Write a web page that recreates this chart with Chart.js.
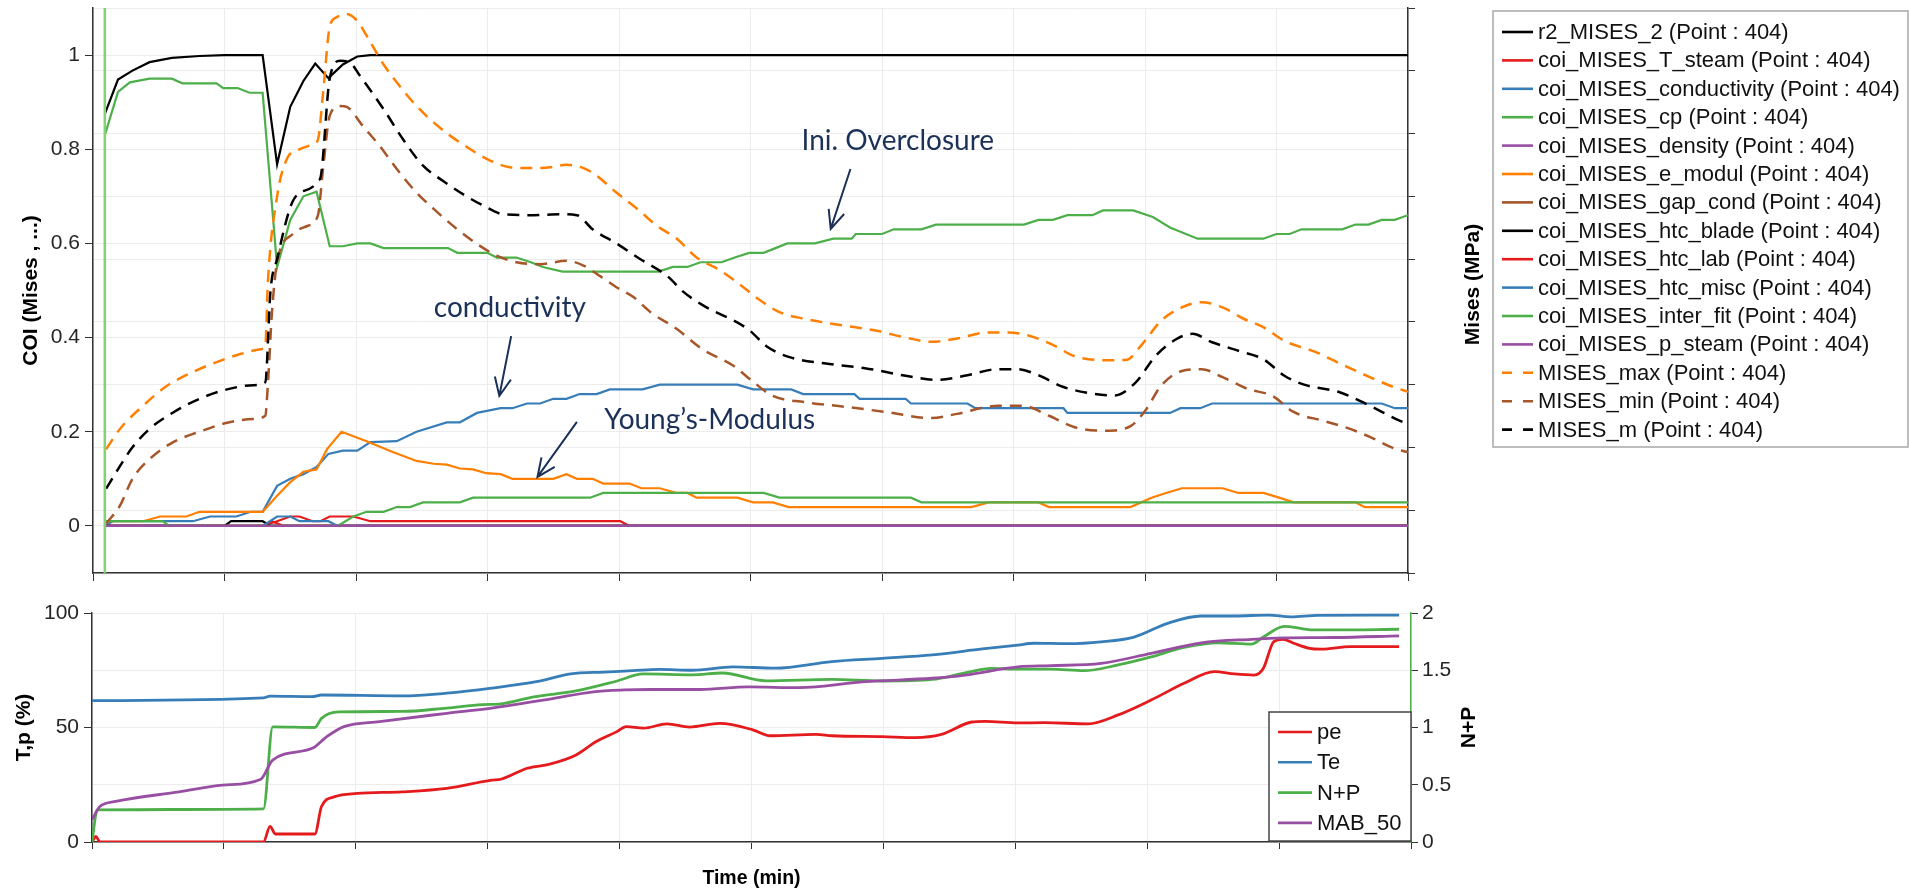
<!DOCTYPE html>
<html>
<head>
<meta charset="utf-8">
<title>COI / Mises over time</title>
<script src="https://cdn.jsdelivr.net/npm/chart.js@4.4.1/dist/chart.umd.min.js"></script>
<style>
  html, body { margin: 0; padding: 0; background: #ffffff; }
  #page { position: relative; width: 1909px; height: 894px; overflow: hidden; background: #ffffff; }
  #coiCanvas { position: absolute; left: 0; top: -20px; }
  #procCanvas { position: absolute; left: 0; top: 590px; }
</style>
</head>
<body>
<div id="page">
  <canvas id="coiCanvas" width="1909" height="620"></canvas>
  <canvas id="procCanvas" width="1909" height="304"></canvas>
</div>
<script>
// ---------------------------------------------------------------
// Axis ticks (time axis spans 0..100 over the run, no numbers shown)
// ---------------------------------------------------------------
const timeTicks    = [0, 10, 20, 30, 40, 50, 60, 70, 80, 90, 100];
const coiTicks     = [0, 0.2, 0.4, 0.6, 0.8, 1];
const misesTicks   = [0, 1, 2, 3, 4, 5, 6, 7, 8, 9];
const percentTicks = [0, 50, 100];
const npTicks      = [0, 0.5, 1, 1.5, 2];
const timeMarker   = 0.9;

// ---------------------------------------------------------------
// Upper plot: [time, value] samples per series
// ---------------------------------------------------------------
const r2Mises2 = [[0.9,0.875],[1.9,0.948],[3.0,0.967],[4.3,0.985],[6.0,0.994],[8.1,0.998],[10.0,1.0],[12.9,1.0],[14.0,0.768],[15.0,0.89],[16.0,0.945],[16.9,0.982],[17.9,0.951],[19.0,0.98],[20.1,0.997],[21.1,1.0],[100,1.0]];
const coiTSteam = [[0.9,0],[12.9,0],[14.0,0.01],[15.0,0.02],[15.7,0.02],[16.7,0.01],[17.3,0.01],[18.0,0.02],[19.8,0.02],[21.1,0.01],[40.1,0.01],[40.8,0],[100,0]];
const coiConductivity = [[0.9,0],[1.5,0.01],[7.6,0.01],[8.9,0.02],[10.9,0.02],[12.0,0.03],[12.9,0.03],[14.0,0.085],[15.0,0.1],[16.0,0.11],[17.0,0.125],[17.9,0.153],[19.0,0.16],[20.1,0.16],[21.1,0.178],[23.1,0.18],[24.6,0.2],[26.9,0.22],[27.9,0.22],[29.2,0.24],[31.0,0.25],[31.9,0.25],[33.0,0.26],[34.0,0.26],[35.0,0.27],[36.0,0.27],[37.0,0.28],[38.3,0.28],[39.3,0.29],[41.8,0.29],[43.1,0.3],[49.0,0.3],[50.2,0.29],[53.1,0.29],[54.0,0.28],[57.9,0.28],[58.3,0.27],[61.8,0.27],[62.2,0.26],[66.5,0.26],[67.1,0.25],[73.8,0.25],[74.1,0.24],[81.9,0.24],[82.7,0.25],[84.2,0.25],[85.1,0.26],[98.0,0.26],[99.0,0.25],[100,0.25]];
const coiCp = [[0.9,0.83],[1.9,0.922],[2.8,0.942],[4.3,0.95],[6.0,0.95],[6.8,0.94],[9.4,0.94],[9.9,0.93],[11.0,0.93],[11.9,0.92],[12.9,0.92],[14.0,0.55],[15.0,0.65],[16.0,0.70],[17.0,0.71],[18.0,0.594],[19.0,0.594],[20.1,0.60],[21.1,0.60],[22.1,0.59],[27.0,0.59],[27.7,0.58],[30.0,0.58],[30.7,0.57],[32.2,0.57],[33.3,0.56],[34.2,0.55],[35.7,0.54],[43.0,0.54],[44.1,0.55],[45.2,0.55],[46.2,0.56],[47.8,0.56],[48.8,0.57],[49.9,0.58],[51.0,0.58],[51.9,0.59],[52.8,0.60],[54.9,0.60],[56.3,0.61],[57.7,0.61],[58.0,0.62],[60.0,0.62],[60.9,0.63],[63.0,0.63],[64.1,0.64],[70.8,0.64],[71.9,0.65],[73.0,0.65],[74.1,0.66],[76.0,0.66],[76.8,0.67],[79.1,0.67],[80.6,0.656],[81.9,0.634],[84.0,0.61],[89.0,0.61],[90.0,0.62],[91.0,0.62],[91.9,0.63],[95.0,0.63],[96.0,0.64],[97.0,0.64],[98.0,0.65],[99.0,0.65],[100,0.66]];
const coiDensity = [[0.9,0],[100,0]];
const coiEModul = [[0.9,0],[1.0,0.01],[3.8,0.01],[5.1,0.02],[7.1,0.02],[8.1,0.03],[12.9,0.03],[14.0,0.064],[15.0,0.093],[16.0,0.115],[17.0,0.12],[17.8,0.163],[18.9,0.2],[20.8,0.18],[22.8,0.157],[24.6,0.138],[25.9,0.132],[26.9,0.13],[27.9,0.122],[28.9,0.12],[29.9,0.112],[31.0,0.11],[31.9,0.1],[35.0,0.1],[36.0,0.11],[36.8,0.1],[38.0,0.1],[38.8,0.09],[40.8,0.09],[41.7,0.08],[43.1,0.08],[44.4,0.07],[45.2,0.07],[45.9,0.06],[49.0,0.06],[50.2,0.05],[51.7,0.05],[52.9,0.04],[66.8,0.04],[68.1,0.05],[71.9,0.05],[72.7,0.04],[78.9,0.04],[80.5,0.06],[81.6,0.07],[82.8,0.08],[85.9,0.08],[87.1,0.07],[89.0,0.07],[90.2,0.06],[91.3,0.05],[96.0,0.05],[96.7,0.04],[100,0.04]];
const coiGapCond = [[0.9,0],[100,0]];
const coiHtcBlade = [[0.9,0],[10.0,0],[10.5,0.01],[12.9,0.01],[13.5,0],[100,0]];
const coiHtcLab = [[0.9,0],[12.9,0],[13.6,0.01],[14.5,0],[100,0]];
const coiHtcMisc = [[0.9,0],[12.9,0],[14.0,0.02],[15.0,0.02],[15.7,0.01],[17.9,0.01],[18.6,0],[100,0]];
const coiInterFit = [[0.9,0.01],[5.3,0.01],[5.8,0],[18.6,0],[19.8,0.02],[20.8,0.03],[22.1,0.03],[23.1,0.04],[24.1,0.04],[25.1,0.05],[27.9,0.05],[28.9,0.06],[37.8,0.06],[38.8,0.07],[51.0,0.07],[52.2,0.06],[62.2,0.06],[63.0,0.05],[100,0.05]];
const coiPSteam = [[0.9,0],[100,0]];
const misesMax = [[1.0,0.163],[2.05,0.206],[3.8,0.255],[5.6,0.297],[7.6,0.327],[9.4,0.348],[11.2,0.365],[12.9,0.376],[13.1,0.38],[13.3,0.518],[14.0,0.70],[14.75,0.78],[15.5,0.797],[16.7,0.81],[17.1,0.82],[17.5,0.92],[18.0,1.06],[18.5,1.08],[19.3,1.087],[20.1,1.072],[21.1,1.027],[22.1,0.98],[23.3,0.935],[24.6,0.892],[25.9,0.857],[27.1,0.83],[28.7,0.80],[30.2,0.776],[31.7,0.762],[33.5,0.76],[34.8,0.762],[36.0,0.767],[37.3,0.76],[38.3,0.744],[39.8,0.708],[41.4,0.673],[42.9,0.637],[44.4,0.61],[45.9,0.57],[47.5,0.546],[49.0,0.517],[50.6,0.482],[52.2,0.454],[54.1,0.44],[57.2,0.425],[59.5,0.415],[61.8,0.40],[63.8,0.391],[65.7,0.398],[68.1,0.411],[69.6,0.411],[71.2,0.404],[73.1,0.383],[74.6,0.361],[77.0,0.352],[78.6,0.353],[79.7,0.383],[81.2,0.435],[82.8,0.464],[84.3,0.475],[85.9,0.464],[87.5,0.44],[89.0,0.422],[90.6,0.393],[92.9,0.37],[95.2,0.34],[97.1,0.316],[98.9,0.295],[100,0.285]];
const misesMin = [[1.0,0.005],[2.05,0.043],[3.0,0.10],[4.3,0.142],[6.1,0.178],[8.1,0.20],[10.2,0.219],[12.2,0.227],[13.1,0.234],[13.3,0.30],[13.6,0.45],[14.0,0.56],[15.2,0.62],[16.3,0.637],[17.1,0.659],[17.5,0.76],[18.0,0.871],[18.8,0.892],[19.3,0.89],[20.5,0.85],[21.8,0.807],[23.3,0.751],[24.6,0.708],[26.2,0.666],[27.7,0.63],[29.2,0.599],[30.7,0.574],[32.2,0.56],[34.0,0.556],[36.0,0.563],[37.3,0.553],[38.6,0.53],[39.8,0.507],[41.1,0.486],[42.4,0.454],[44.4,0.418],[46.3,0.376],[48.7,0.34],[50.2,0.306],[51.7,0.276],[54.1,0.263],[57.2,0.253],[60.3,0.242],[63.8,0.229],[65.7,0.238],[68.8,0.255],[70.7,0.255],[72.7,0.234],[74.6,0.21],[77.0,0.202],[78.9,0.212],[80.1,0.248],[81.2,0.297],[82.8,0.329],[84.3,0.333],[85.9,0.316],[87.8,0.291],[89.7,0.276],[91.3,0.242],[93.6,0.223],[95.6,0.206],[97.1,0.189],[99.1,0.163],[100,0.157]];
const misesM = [[1.0,0.079],[2.05,0.127],[3.0,0.167],[4.3,0.206],[6.1,0.241],[8.1,0.27],[10.2,0.29],[12.2,0.299],[13.1,0.305],[13.5,0.50],[14.0,0.567],[15.2,0.69],[16.7,0.72],[17.1,0.733],[17.3,0.74],[18.0,0.95],[18.8,0.988],[19.5,0.985],[20.3,0.956],[22.1,0.885],[23.6,0.82],[25.1,0.765],[26.6,0.733],[28.4,0.70],[29.7,0.68],[31.2,0.662],[33.5,0.66],[35.5,0.662],[36.8,0.66],[38.0,0.63],[39.8,0.60],[41.6,0.567],[43.7,0.53],[44.9,0.497],[46.3,0.47],[49.8,0.418],[51.3,0.38],[52.9,0.359],[56.0,0.344],[58.7,0.335],[61.8,0.319],[64.2,0.31],[66.5,0.32],[68.8,0.333],[70.3,0.333],[71.9,0.32],[73.8,0.295],[75.8,0.282],[77.7,0.277],[79.3,0.305],[80.8,0.361],[82.4,0.397],[83.6,0.408],[85.1,0.39],[87.1,0.372],[89.0,0.354],[90.6,0.319],[92.1,0.30],[94.8,0.284],[96.3,0.266],[97.9,0.244],[99.4,0.223],[100,0.218]];

// ---------------------------------------------------------------
// Lower plot: process quantities (pe, Te, MAB_50 in %, N+P on its own axis)
// ---------------------------------------------------------------
const processPe = [[0,0],[0.3,2.4],[0.6,0],[13.0,0],[13.5,6.8],[13.9,3.5],[16.9,3.5],[17.4,15.5],[18.4,19.8],[20.1,21.2],[23.5,21.9],[26.9,23.4],[30.3,27.0],[31.0,27.4],[33.0,32.2],[34.7,34.0],[36.7,38.0],[38.2,43.8],[39.8,48.2],[40.5,50.4],[41.8,49.7],[43.6,51.6],[45.3,50.2],[47.6,51.8],[50.1,49.0],[51.4,46.4],[54.9,47.0],[56.1,46.4],[59.9,46.0],[62.4,45.6],[64.4,47.0],[66.7,52.4],[67.7,52.7],[70.2,52.0],[72.2,52.1],[75.5,51.6],[77.8,55.5],[80.3,62.0],[82.8,69.3],[85.1,74.4],[86.6,73.4],[88.1,72.9],[88.8,75.8],[89.6,87.5],[90.3,88.5],[91.1,86.8],[92.2,84.7],[93.2,84.2],[95.4,85.3],[99.1,85.3]];
const processTe = [[0,61.7],[13.0,62.9],[13.5,63.7],[16.7,63.5],[17.4,64.2],[23.5,63.8],[26.9,65.0],[30.3,67.2],[33.7,70.0],[36.3,73.4],[38.8,74.2],[41.0,74.8],[43.0,75.4],[45.5,75.0],[48.6,76.5],[51.8,75.9],[56.1,78.8],[59.9,80.2],[63.7,81.7],[67.5,84.3],[70.2,86.0],[71.4,86.8],[74.0,86.6],[76.5,87.4],[79.0,89.5],[81.6,95.6],[84.1,98.7],[86.6,98.7],[89.2,99.1],[90.9,98.3],[92.9,99.0],[99.1,99.1]];
const processNP = [[0,0],[0.4,0.28],[13.0,0.29],[13.7,1.006],[16.9,1.0],[17.4,1.08],[18.7,1.136],[23.5,1.14],[26.9,1.17],[29.6,1.2],[31.0,1.206],[33.5,1.268],[36.7,1.32],[39.8,1.406],[41.8,1.468],[45.5,1.46],[47.8,1.476],[51.1,1.408],[56.1,1.42],[59.9,1.406],[63.7,1.42],[66.2,1.476],[68.2,1.516],[70.2,1.51],[72.7,1.51],[75.2,1.496],[77.8,1.546],[80.3,1.616],[82.8,1.70],[85.4,1.74],[87.9,1.728],[88.8,1.79],[90.4,1.884],[91.7,1.864],[92.4,1.852],[94.2,1.852],[99.1,1.858]];
const processMab50 = [[0,9.7],[0.6,15.5],[1.8,17.7],[6.6,21.9],[9.9,24.8],[12.8,27.4],[13.7,35.8],[16.7,40.9],[17.8,46.0],[19.1,50.4],[21.8,52.6],[26.9,56.2],[30.3,58.5],[34.7,62.4],[38.0,65.6],[40.4,66.4],[42.3,66.6],[46.1,66.6],[49.8,67.7],[53.6,67.4],[58.6,70.0],[63.7,71.5],[66.2,72.9],[70.2,76.5],[72.7,77.0],[76.5,78.0],[80.3,82.4],[84.1,87.0],[87.9,88.5],[90.4,89.1],[94.2,89.3],[99.1,90.0]];

// Text callouts on the upper plot, anchored in data units
const callouts = [
  { text: 'Ini. Overclosure', at: [61.2, 0.818], from: [57.6, 0.758], to: [56.1, 0.631] },
  { text: 'conductivity',     at: [31.7, 0.462], from: [31.8, 0.403], to: [30.9, 0.276] },
  { text: 'Young\u2019s-Modulus', at: [46.9, 0.226], from: [36.8, 0.221], to: [33.8, 0.104] }
];

// ---------------------------------------------------------------
// Styling
// ---------------------------------------------------------------
const palette = {
  black: '#000000', red: '#e41a1c', blue: '#377eb8', green: '#4daf4a',
  purple: '#984ea3', orange: '#ff7f00', brown: '#a65628'
};
const UI_FONT = '"Liberation Sans", Arial, sans-serif';
const NOTE_FONT = 'Lato, "Open Sans", sans-serif';
const GRID = '#ececec';
const AXIS = '#333333';

Chart.defaults.font.family = UI_FONT;
Chart.defaults.animation = false;

const toXY = pts => pts.map(([x, y]) => ({ x, y }));
const fmt = v => String(Math.round(v * 10) / 10);
const fixTicks = list => scale => { scale.ticks = list.map(value => ({ value })); };

const coiSeries = [
  ['r2_MISES_2',             r2Mises2,        'black',  false],
  ['coi_MISES_T_steam',      coiTSteam,       'red',    false],
  ['coi_MISES_conductivity', coiConductivity, 'blue',   false],
  ['coi_MISES_cp',           coiCp,           'green',  false],
  ['coi_MISES_density',      coiDensity,      'purple', false],
  ['coi_MISES_e_modul',      coiEModul,       'orange', false],
  ['coi_MISES_gap_cond',     coiGapCond,      'brown',  false],
  ['coi_MISES_htc_blade',    coiHtcBlade,     'black',  false],
  ['coi_MISES_htc_lab',      coiHtcLab,       'red',    false],
  ['coi_MISES_htc_misc',     coiHtcMisc,      'blue',   false],
  ['coi_MISES_inter_fit',    coiInterFit,     'green',  false],
  ['coi_MISES_p_steam',      coiPSteam,       'purple', false],
  ['MISES_max',              misesMax,        'orange', true],
  ['MISES_min',              misesMin,        'brown',  true],
  ['MISES_m',                misesM,          'black',  true]
];

const coiDatasets = coiSeries.map(([name, pts, col, dashed], i) => ({
  label: name + ' (Point : 404)',
  data: toXY(pts),
  borderColor: palette[col],
  backgroundColor: palette[col],
  borderWidth: dashed ? 2.5 : 2.2,
  borderDash: dashed ? [12, 8] : [],
  cubicInterpolationMode: dashed ? 'monotone' : 'default',
  pointRadius: 0,
  fill: false,
  order: coiSeries.length - i,
  yAxisID: 'y'
}));
coiDatasets.push({
  label: 'time',
  data: [{ x: timeMarker, y: -0.1 }, { x: timeMarker, y: 1.1 }],
  borderColor: '#84d276', borderWidth: 2.6, pointRadius: 0, order: 0,
  yAxisID: 'y', inLegend: false
});

const processSeries = [
  ['pe',     processPe,    'red',    'y'],
  ['Te',     processTe,    'blue',   'y'],
  ['N+P',    processNP,    'green',  'y2'],
  ['MAB_50', processMab50, 'purple', 'y']
];
const processDatasets = processSeries.map(([name, pts, col, axis], i) => ({
  label: name,
  data: toXY(pts),
  borderColor: palette[col],
  backgroundColor: palette[col],
  borderWidth: 2.8,
  cubicInterpolationMode: 'monotone',
  pointRadius: 0,
  fill: false,
  order: processSeries.length - i,
  yAxisID: axis
}));

// ---------------------------------------------------------------
// Drawing helpers (legends, right-hand titles, callouts)
// ---------------------------------------------------------------
function verticalTitle(ctx, text, x, y, font) {
  ctx.save();
  ctx.translate(x, y);
  ctx.rotate(-Math.PI / 2);
  ctx.font = font;
  ctx.fillStyle = '#000';
  ctx.textAlign = 'center';
  ctx.textBaseline = 'middle';
  ctx.fillText(text, 0, 0);
  ctx.restore();
}

function drawLegend(ctx, chart, box, rowStart, rowStep, sample, textX, dashPattern) {
  ctx.save();
  if (box.fill) { ctx.fillStyle = box.fill; ctx.fillRect(box.x, box.y, box.w, box.h); }
  ctx.strokeStyle = box.stroke; ctx.lineWidth = box.lw;
  ctx.strokeRect(box.x, box.y, box.w, box.h);
  ctx.font = '22px ' + UI_FONT;
  ctx.textBaseline = 'middle';
  ctx.textAlign = 'left';
  chart.data.datasets.filter(d => d.inLegend !== false).forEach((d, i) => {
    const y = box.y + rowStart + i * rowStep;
    ctx.beginPath();
    ctx.setLineDash(d.borderDash && d.borderDash.length ? dashPattern : []);
    ctx.lineCap = 'butt';
    ctx.lineWidth = 2.6;
    ctx.strokeStyle = d.borderColor;
    ctx.moveTo(box.x + sample[0], y);
    ctx.lineTo(box.x + sample[1], y);
    ctx.stroke();
    ctx.setLineDash([]);
    ctx.fillStyle = '#111';
    ctx.fillText(d.label, box.x + textX, y + 1);
  });
  ctx.restore();
}

const coiDecor = {
  id: 'coiDecor',
  afterDatasetsDraw(chart) {
    const { ctx, scales: { x, y } } = chart;
    ctx.save();
    ctx.strokeStyle = '#1c3158';
    ctx.fillStyle = '#1c3158';
    ctx.lineWidth = 2;
    ctx.font = '28px ' + NOTE_FONT;
    ctx.textAlign = 'center';
    ctx.textBaseline = 'middle';
    callouts.forEach(c => {
      ctx.fillText(c.text, x.getPixelForValue(c.at[0]), y.getPixelForValue(c.at[1]));
      const x0 = x.getPixelForValue(c.from[0]), y0 = y.getPixelForValue(c.from[1]);
      const x1 = x.getPixelForValue(c.to[0]),   y1 = y.getPixelForValue(c.to[1]);
      const ang = Math.atan2(y1 - y0, x1 - x0);
      const head = 20, spread = 0.42;
      ctx.beginPath();
      ctx.moveTo(x0, y0); ctx.lineTo(x1, y1);
      ctx.moveTo(x1 - head * Math.cos(ang - spread), y1 - head * Math.sin(ang - spread));
      ctx.lineTo(x1, y1);
      ctx.lineTo(x1 - head * Math.cos(ang + spread), y1 - head * Math.sin(ang + spread));
      ctx.stroke();
    });
    ctx.restore();
  },
  afterDraw(chart) {
    const { ctx, chartArea: ca } = chart;
    verticalTitle(ctx, 'Mises (MPa)', ca.right + 65, (ca.top + ca.bottom) / 2 - 6, 'bold 21px ' + UI_FONT);
    drawLegend(ctx, chart,
      { x: ca.right + 85, y: ca.top + 3, w: 415, h: 436, stroke: '#a8a8a8', lw: 1.5 },
      21, 28.4, [9, 40], 45, [10, 11]);
  }
};

const processDecor = {
  id: 'processDecor',
  afterDatasetsDraw(chart) {
    const { ctx, chartArea: ca } = chart;
    drawLegend(ctx, chart,
      { x: ca.right - 142, y: ca.top + 99, w: 142, h: 129, fill: '#ffffff', stroke: '#444444', lw: 1.5 },
      20, 30.3, [9, 43], 48, [10, 11]);
  },
  afterDraw(chart) {
    const { ctx, chartArea: ca } = chart;
    verticalTitle(ctx, 'N+P', ca.right + 58, (ca.top + ca.bottom) / 2, 'bold 21px ' + UI_FONT);
  }
};

const tickFont = { size: 21, family: UI_FONT };
const titleFont = { size: 21, weight: 'bold', family: UI_FONT };

// ---------------------------------------------------------------
// Upper chart: coefficients of importance and Mises statistics
// ---------------------------------------------------------------
new Chart(document.getElementById('coiCanvas'), {
  type: 'line',
  data: { datasets: coiDatasets },
  options: {
    responsive: false,
    devicePixelRatio: 1,
    events: [],
    layout: { padding: { top: 28, left: 0, right: 0, bottom: 0 } },
    plugins: { legend: { display: false }, tooltip: { enabled: false } },
    scales: {
      x: {
        type: 'linear', position: 'bottom', min: 0, max: 100,
        afterBuildTicks: fixTicks(timeTicks),
        afterFit: s => { s.height = 27; },
        ticks: { display: false },
        grid: { color: GRID, tickColor: AXIS, tickLength: 8, lineWidth: 1 },
        border: { color: AXIS, width: 1.5 }
      },
      y: {
        type: 'linear', position: 'left', min: -0.1, max: 1.1,
        afterBuildTicks: fixTicks(coiTicks),
        afterFit: s => { s.width = 93; },
        ticks: { font: tickFont, color: '#262626', padding: 5, callback: fmt },
        grid: { color: GRID, tickColor: AXIS, tickLength: 8 },
        border: { color: AXIS, width: 1.5 },
        title: { display: true, text: 'COI (Mises , ...)', font: titleFont, color: '#000', padding: { top: 19, bottom: 0 } }
      },
      y2: {
        type: 'linear', position: 'right', min: 0, max: 9,
        afterBuildTicks: fixTicks(misesTicks),
        afterFit: s => { s.width = 501; },
        ticks: { display: false },
        grid: { color: GRID, tickColor: AXIS, tickLength: 7 },
        border: { color: AXIS, width: 1.5 }
      }
    }
  },
  plugins: [coiDecor]
});

// ---------------------------------------------------------------
// Lower chart: process quantities over the same time span
// ---------------------------------------------------------------
new Chart(document.getElementById('procCanvas'), {
  type: 'line',
  data: { datasets: processDatasets },
  options: {
    responsive: false,
    devicePixelRatio: 1,
    events: [],
    layout: { padding: { top: 23, left: 0, right: 0, bottom: 0 } },
    plugins: { legend: { display: false }, tooltip: { enabled: false } },
    scales: {
      x: {
        type: 'linear', position: 'bottom', min: 0, max: 100,
        afterBuildTicks: fixTicks(timeTicks),
        afterFit: s => { s.height = 52; },
        ticks: { display: false },
        grid: { color: GRID, tickColor: AXIS, tickLength: 7 },
        border: { color: AXIS, width: 1.5 },
        title: { display: true, text: 'Time (min)', font: { size: 19.5, weight: 'bold', family: UI_FONT }, color: '#000', padding: { top: 0, bottom: 4 } }
      },
      y: {
        type: 'linear', position: 'left', min: 0, max: 100,
        afterBuildTicks: fixTicks(percentTicks),
        afterFit: s => { s.width = 92; },
        ticks: { font: tickFont, color: '#262626', padding: 5, callback: fmt },
        grid: { color: GRID, tickColor: AXIS, tickLength: 8 },
        border: { color: AXIS, width: 1.5 },
        title: { display: true, text: 'T,p (%)', font: titleFont, color: '#000', padding: { top: 12, bottom: 0 } }
      },
      y2: {
        type: 'linear', position: 'right', min: 0, max: 2,
        afterBuildTicks: fixTicks(npTicks),
        afterFit: s => { s.width = 498; },
        ticks: { font: tickFont, color: '#262626', padding: 4, callback: fmt },
        grid: { color: GRID, tickColor: AXIS, tickLength: 7 },
        border: { color: palette.green, width: 1.5 }
      }
    }
  },
  plugins: [processDecor]
});
</script>
</body>
</html>
